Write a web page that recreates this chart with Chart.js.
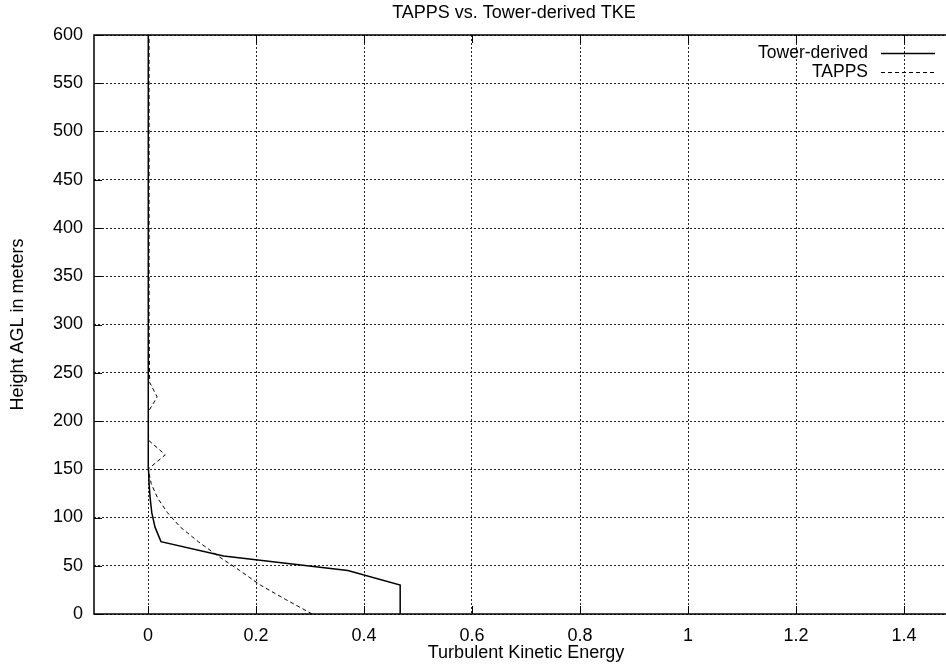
<!DOCTYPE html>
<html>
<head>
<meta charset="utf-8">
<title>TAPPS vs. Tower-derived TKE</title>
<script src="https://cdn.jsdelivr.net/npm/chart.js@4/dist/chart.umd.min.js"></script>
<style>
  html, body { margin: 0; padding: 0; background: #fff; overflow: hidden; }
  canvas { display: block; }
</style>
</head>
<body>
<canvas id="tke" width="960" height="667"></canvas>
<script>
// Tower-derived TKE profile (m^2/s^2) against height AGL (m)
const towerHeights = [0, 30, 45, 60, 75, 90, 105, 120, 135, 150, 200, 300, 400, 500, 600];
const towerTKE     = [0.467, 0.467, 0.37, 0.14, 0.024, 0.013, 0.007, 0.004, 0.002, 0.001, 0.0005, 0.0005, 0.0005, 0.0005, 0.0005];

// TAPPS model TKE profile
const tappsHeights = [0, 15, 30, 45, 60, 75, 90, 105, 120, 135, 150, 165, 180, 195, 210, 225, 240, 300, 400, 500, 600];
const tappsTKE     = [0.304, 0.255, 0.208, 0.170, 0.130, 0.093, 0.060, 0.036, 0.018, 0.006, 0.0, 0.032, 0.001, 0.001, 0.001, 0.017, 0.003, 0.002, 0.002, 0.002, 0.002];

// Axis ticks
const xTicks = [0, 0.2, 0.4, 0.6, 0.8, 1.0, 1.2, 1.4];
const yTicks = [0, 50, 100, 150, 200, 250, 300, 350, 400, 450, 500, 550, 600];

const FONT = '"Liberation Sans", Arial, Helvetica, sans-serif';

const toPoints = (xs, ys) => xs.map((x, i) => ({ x: x, y: ys[i] }));

// Frame, inward tick marks, title and key drawn on top of the plot
const framePlugin = {
  id: 'frame',
  afterDraw(chart) {
    const { ctx, chartArea: a, scales } = chart;
    const xs = scales.x, ys = scales.y;
    ctx.save();
    ctx.strokeStyle = '#000';
    ctx.lineWidth = 1;
    ctx.setLineDash([]);
    ctx.beginPath();
    xTicks.forEach(v => {
      const px = Math.round(xs.getPixelForValue(v)) + 0.5;
      ctx.moveTo(px, a.bottom); ctx.lineTo(px, a.bottom - 8);
      ctx.moveTo(px, a.top); ctx.lineTo(px, a.top + 8);
    });
    yTicks.forEach(v => {
      const py = Math.round(ys.getPixelForValue(v)) + 0.5;
      ctx.moveTo(a.left, py); ctx.lineTo(a.left + 8, py);
    });
    ctx.stroke();

    ctx.lineWidth = 1.5;
    ctx.beginPath();
    ctx.moveTo(a.right, a.top);
    ctx.lineTo(a.left, a.top);
    ctx.lineTo(a.left, a.bottom);
    ctx.lineTo(a.right, a.bottom);
    ctx.stroke();

    // title
    ctx.fillStyle = '#000';
    ctx.font = '18px ' + FONT;
    ctx.textAlign = 'center';
    ctx.textBaseline = 'middle';
    ctx.fillText('TAPPS vs. Tower-derived TKE', 514, 13);

    // key
    ctx.font = '17.5px ' + FONT;
    ctx.textAlign = 'right';
    chart.data.datasets.forEach((ds, i) => {
      const y = 53 + i * 19;
      ctx.fillStyle = '#000';
      ctx.fillText(ds.label, 868, y);
      ctx.strokeStyle = ds.borderColor;
      ctx.lineWidth = ds.borderWidth;
      ctx.setLineDash(ds.borderDash || []);
      ctx.beginPath();
      ctx.moveTo(881, Math.round(y) + 0.5);
      ctx.lineTo(935, Math.round(y) + 0.5);
      ctx.stroke();
    });
    ctx.restore();
  }
};

new Chart(document.getElementById('tke'), {
  type: 'scatter',
  data: {
    datasets: [
      {
        label: 'Tower-derived',
        data: toPoints(towerTKE, towerHeights),
        showLine: true,
        borderColor: '#000',
        borderWidth: 1.5,
        pointRadius: 0,
        tension: 0,
        fill: false
      },
      {
        label: 'TAPPS',
        data: toPoints(tappsTKE, tappsHeights),
        showLine: true,
        borderColor: '#000',
        borderWidth: 1,
        borderDash: [4, 3],
        pointRadius: 0,
        tension: 0,
        fill: false
      }
    ]
  },
  options: {
    responsive: false,
    animation: false,
    layout: { padding: { top: 35, right: 2, left: 0, bottom: 0 } },
    plugins: {
      legend: { display: false },
      title: { display: false },
      tooltip: { enabled: false }
    },
    scales: {
      x: {
        type: 'linear',
        min: -0.1,
        max: 1.5,
        afterBuildTicks(scale) { scale.ticks = xTicks.map(v => ({ value: v })); },
        afterFit(scale) { scale.height = 53; },
        grid: {
          drawTicks: false,
          color: '#222',
          lineWidth: 1
        },
        border: { display: false, dash: [2, 2] },
        ticks: {
          padding: 11,
          color: '#000',
          font: { family: FONT, size: 18 },
          callback: v => String(+Number(v).toFixed(1))
        },
        title: {
          display: true,
          text: 'Turbulent Kinetic Energy',
          color: '#000',
          font: { family: FONT, size: 18 },
          padding: { top: 0, bottom: 3 }
        }
      },
      y: {
        type: 'linear',
        min: 0,
        max: 600,
        afterBuildTicks(scale) { scale.ticks = yTicks.map(v => ({ value: v })); },
        afterFit(scale) { scale.width = 94; },
        grid: {
          drawTicks: false,
          color: '#222',
          lineWidth: 1
        },
        border: { display: false, dash: [2, 2] },
        ticks: {
          padding: 11,
          color: '#000',
          font: { family: FONT, size: 18 }
        },
        title: {
          display: true,
          text: 'Height AGL in meters',
          color: '#000',
          font: { family: FONT, size: 18 },
          padding: { top: 7, bottom: 0 }
        }
      }
    }
  },
  plugins: [framePlugin]
});
</script>
</body>
</html>
